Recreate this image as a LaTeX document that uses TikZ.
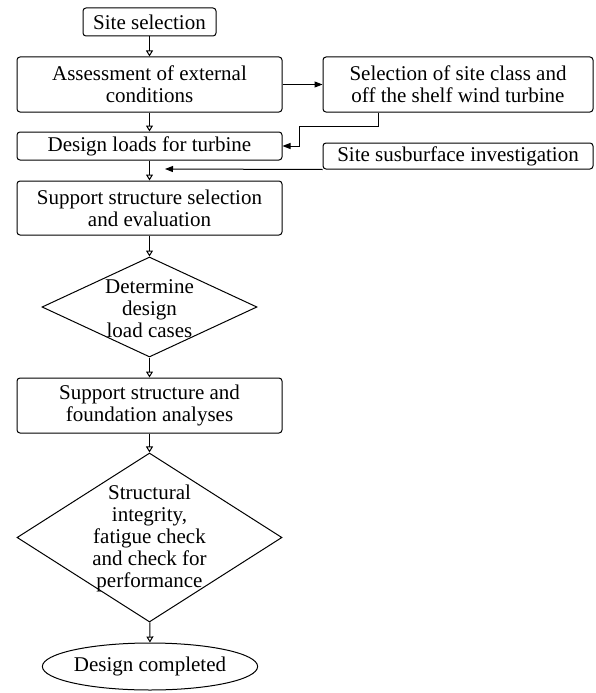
\documentclass[tikz,border=0pt]{standalone}
\usepackage{fontspec}
\setmainfont{Liberation Serif}
\usetikzlibrary{arrows.meta,shapes.geometric}
\begin{document}
\begin{tikzpicture}[x=1pt,y=-1pt,
  every node/.style={font=\fontsize{21}{22}\selectfont, align=center, inner sep=0pt},
  box/.style={draw, rounded corners=3pt, line width=1pt},
  dia/.style={draw, diamond, line width=1pt},
  flow/.style={line width=1pt, -{Triangle[open,length=6pt,width=7pt]}},
  feed/.style={line width=1pt, -{Triangle[length=8pt,width=6pt]}}]
\useasboundingbox (0,0) rectangle (595,693);
\node[box, minimum width=133pt, minimum height=28pt] (site) at (149.5,22) {Site selection};
\node[box, minimum width=265pt, minimum height=55pt] (assess) at (149.5,84.5) {Assessment of external\\conditions};
\node[box, minimum width=265pt, minimum height=28pt] (loads) at (149.5,146) {Design loads for turbine};
\node[box, minimum width=265pt, minimum height=54pt] (supp) at (149.5,208) {Support structure selection\\and evaluation};
\node[dia, minimum width=215pt, minimum height=100pt] (d1) at (149.5,307) {};
\node at (149.5,309) {Determine\\design\\load cases};
\node[box, minimum width=265pt, minimum height=55pt] (anal) at (149.5,405.5) {Support structure and\\foundation analyses};
\node[dia, minimum width=265pt, minimum height=169pt] (d2) at (149.5,537.5) {};
\node at (149.5,538) {Structural\\integrity,\\fatigue check\\and check for\\performance};
\node[draw, ellipse, line width=1pt, minimum width=180pt, minimum height=47pt] (done) at (150,666.5) {Design completed};
\node[box, minimum width=270pt, minimum height=55pt] (sel) at (458,84.5) {Selection of site class and\\off the shelf wind turbine};
\node[box, minimum width=270pt, minimum height=26pt] (sub) at (458,156) {Site susburface investigation};
\coordinate (subend) at (165,169);
\draw[flow] (site) -- (assess);
\draw[flow] (assess) -- (loads);
\draw[flow] (loads) -- (supp);
\draw[flow] (supp) -- (d1);
\draw[flow] (d1) -- (anal);
\draw[flow] (anal) -- (d2);
\draw[flow] (d2) -- (done);
\draw[feed] (assess.east) -- (sel.west);
\draw[feed] (sel.south -| 378,0) -- (378,126.5) -- (299,126.5) -- (299,146) -- (loads.east);
\draw[feed] (sub.south west) -- (subend);
\end{tikzpicture}
\end{document}
